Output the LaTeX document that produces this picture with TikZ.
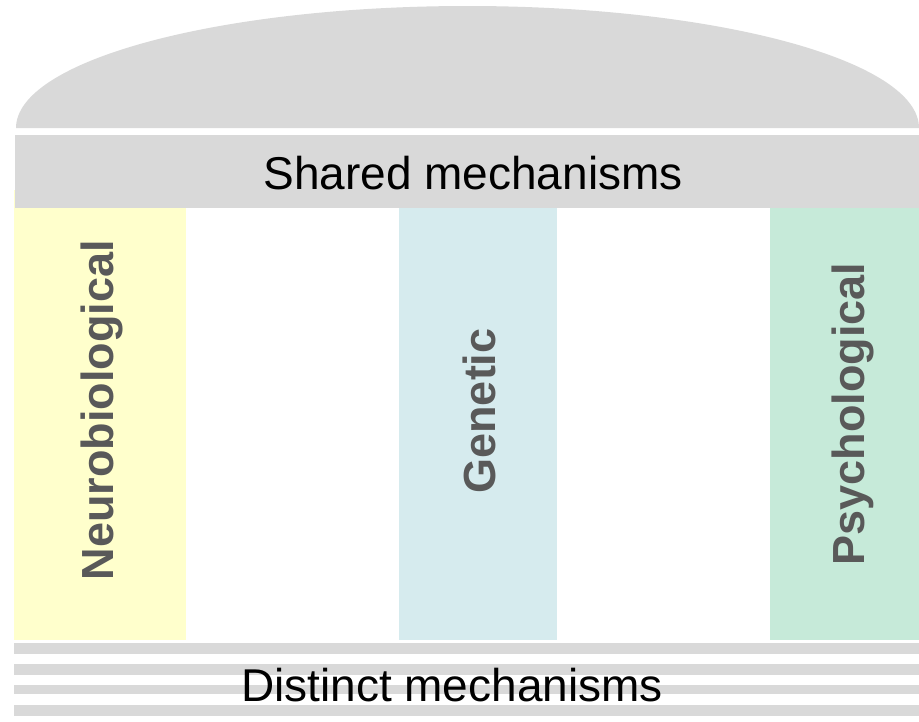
\documentclass[tikz,border=0pt]{standalone}
\usepackage{fontspec}
\setmainfont{Liberation Sans}
\definecolor{domegray}{HTML}{D9D9D9}
\definecolor{neuroyellow}{HTML}{FFFFCC}
\definecolor{genblue}{HTML}{D6EBEE}
\definecolor{psygreen}{HTML}{C6EAD9}
\definecolor{labelgray}{HTML}{595959}
\tikzset{
  graybox/.style={fill=domegray, draw=none},
  collabel/.style={rotate=90, text=labelgray, font=\fontsize{45}{50}\selectfont\bfseries, inner sep=0pt},
  bandlabel/.style={text=black, font=\fontsize{46}{52}\selectfont, inner sep=0pt}
}
\begin{document}
\begin{tikzpicture}[x=1pt,y=-1pt]
\useasboundingbox (0,0) rectangle (919,721);
% dome
\fill[domegray] (16,128) arc[start angle=180, end angle=360, x radius=451.5, y radius=122] -- cycle;
% columns
\fill[neuroyellow] (14,190) rectangle (186,640);
\fill[genblue] (399,190) rectangle (557,640);
\fill[psygreen] (770,190) rectangle (919,640);
% shared band
\fill[domegray] (15,135) rectangle (919,208);
% stripes
\foreach \ya/\yb in {643/654, 664/675, 685/694, 705/716}
  \fill[domegray] (14,\ya) rectangle (919,\yb);
% labels
\node[bandlabel] (shared) at (473,173) {Shared mechanisms};
\node[bandlabel] (distinct) at (452,685) {Distinct mechanisms};
\node[collabel] (neuro) at (102,410) {Neurobiological};
\node[collabel] (gen) at (479,411) {Genetic};
\node[collabel] (psy) at (853,414) {Psychological};
\end{tikzpicture}
\end{document}
